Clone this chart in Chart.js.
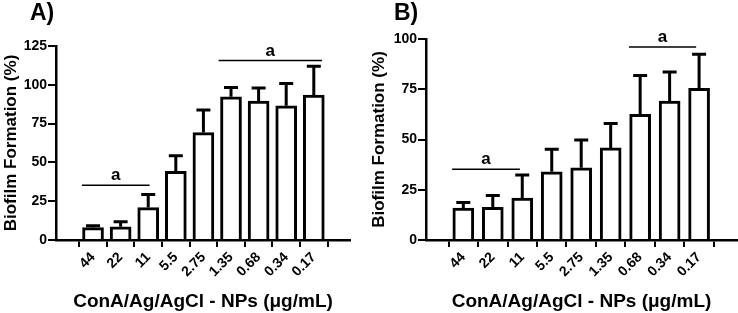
<!DOCTYPE html>
<html>
<head>
<meta charset="utf-8">
<script src="https://cdn.jsdelivr.net/npm/chart.js@4.4.1/dist/chart.umd.min.js"></script>
<style>
  body { margin: 0; background: #fff; }
  #wrap { position: relative; width: 738px; height: 313px; font-family: "Liberation Sans", Arial, sans-serif; }
  .panel { position: absolute; top: 0; }
  .tag { position: absolute; top: 1px; font-weight: bold; font-size: 23px; line-height: 1; }
</style>
</head>
<body>
<div id="wrap">
  <canvas id="chartA" class="panel" style="left:0" width="369" height="313"></canvas>
  <canvas id="chartB" class="panel" style="left:369px" width="369" height="313"></canvas>
  <div class="tag" style="left:30px">A)</div>
  <div class="tag" style="left:394px">B)</div>
</div>
<script>
// Data
const doses = ['44', '22', '11', '5.5', '2.75', '1.35', '0.68', '0.34', '0.17'];

// panel A
const meanA = [8, 8.5, 20.9, 44.2, 69.2, 92.3, 89.5, 86.5, 93.4];
const sdA = [1.2, 3.3, 8.4, 10.1, 14.6, 6.0, 8.4, 14.4, 18.6];
// significance lines: from / to in category units, height in %
const sigA = [
  { from: -0.4, to: 2.05, y: 35.3, label: 'a' },
  { from: 4.55, to: 8.3, y: 115.6, label: 'a' }
];

// panel B
const meanB = [15.9, 16.2, 20.8, 33.9, 35.9, 45.8, 62.5, 69.1, 75.5];
const sdB = [2.8, 5.9, 11.6, 11.2, 13.9, 12.1, 19.3, 14.5, 16.9];
const sigB = [
  { from: -0.38, to: 1.92, y: 35.2, label: 'a' },
  { from: 5.62, to: 7.9, y: 96, label: 'a' }
];

Chart.defaults.font.family = '"Liberation Sans", Arial, sans-serif';
Chart.defaults.color = '#000';

// error bars (upper only) + significance lines
function makeOverlay(means, sds, sigs) {
    return {
        id: 'overlay',
        afterDatasetsDraw(chart) {
            const { ctx, scales: { x, y } } = chart;
            ctx.save();
            ctx.strokeStyle = '#000';
            ctx.lineWidth = 3;
            means.forEach((m, i) => {
                const px = x.getPixelForValue(i);
                const y0 = y.getPixelForValue(m);
                const y1 = y.getPixelForValue(m + sds[i]);
                ctx.beginPath();
                ctx.moveTo(px, y0);
                ctx.lineTo(px, y1);
                ctx.moveTo(px - 7, y1);
                ctx.lineTo(px + 7, y1);
                ctx.stroke();
            });
            ctx.lineWidth = 1.5;
            ctx.fillStyle = '#000';
            ctx.font = 'bold 17px "Liberation Sans", Arial, sans-serif';
            ctx.textAlign = 'center';
            ctx.textBaseline = 'alphabetic';
            sigs.forEach(s => {
                const xa = x.getPixelForValue(s.from);
                const xb = x.getPixelForValue(s.to);
                const py = y.getPixelForValue(s.y);
                ctx.beginPath();
                ctx.moveTo(xa, py);
                ctx.lineTo(xb, py);
                ctx.stroke();
                ctx.fillText(s.label, (xa + xb) / 2, py - 5);
            });
            ctx.restore();
        }
    };
}

function buildPanel(id, means, sds, sigs, o) {
    return new Chart(document.getElementById(id), {
        type: 'bar',
        data: {
            datasets: [{
                data: means.map((v, i) => ({ x: i, y: v })),
                backgroundColor: '#fff',
                borderColor: '#000',
                borderWidth: 3,
                barThickness: 21
            }]
        },
        options: {
            responsive: false,
            animation: false,
            devicePixelRatio: 1,
            layout: { padding: { top: o.padTop, right: o.padRight, left: 0, bottom: 0 } },
            plugins: { legend: { display: false }, tooltip: { enabled: false } },
            scales: {
                x: {
                    type: 'linear',
                    min: o.xMin,
                    max: o.xMax,
                    afterBuildTicks: s => { s.ticks = doses.map((_, i) => ({ value: i })); },
                    afterFit: s => { s.height = 73; },
                    ticks: {
                        autoSkip: false,
                        minRotation: 45,
                        maxRotation: 45,
                        padding: 2,
                        color: '#000',
                        font: { size: 14, weight: 'bold' },
                        callback: v => doses[v]
                    },
                    grid: { drawOnChartArea: false, color: '#000', lineWidth: 2, tickLength: 7 },
                    border: { color: '#000', width: 2.5 },
                    title: {
                        display: true,
                        text: 'ConA/Ag/AgCl - NPs (μg/mL)',
                        color: '#000',
                        font: { size: 19, weight: 'bold' },
                        padding: { top: 0, bottom: 0 }
                    }
                },
                y: {
                    min: 0,
                    max: o.yMax,
                    afterFit: s => { s.width = o.yWidth; },
                    ticks: { stepSize: 25, padding: 1, color: '#000', font: { size: 14, weight: 'bold' } },
                    grid: { drawOnChartArea: false, color: '#000', lineWidth: 2, tickLength: 8 },
                    border: { color: '#000', width: 2.5 },
                    title: {
                        display: true,
                        text: 'Biofilm Formation (%)',
                        color: '#000',
                        font: { size: 17, weight: 'bold' },
                        padding: { top: o.titlePad, bottom: 0 }
                    }
                }
            }
        },
        plugins: [makeOverlay(means, sds, sigs)]
    });
}

buildPanel('chartA', meanA, sdA, sigA, {
    padTop: 46, padRight: 19, xMin: -0.75, xMax: 8.72, yMax: 125, yWidth: 56, titlePad: 1
});
buildPanel('chartB', meanB, sdB, sigB, {
    padTop: 39, padRight: 1, xMin: -0.68, xMax: 8.7, yMax: 100, yWidth: 57, titlePad: 0
});
</script>
</body>
</html>
